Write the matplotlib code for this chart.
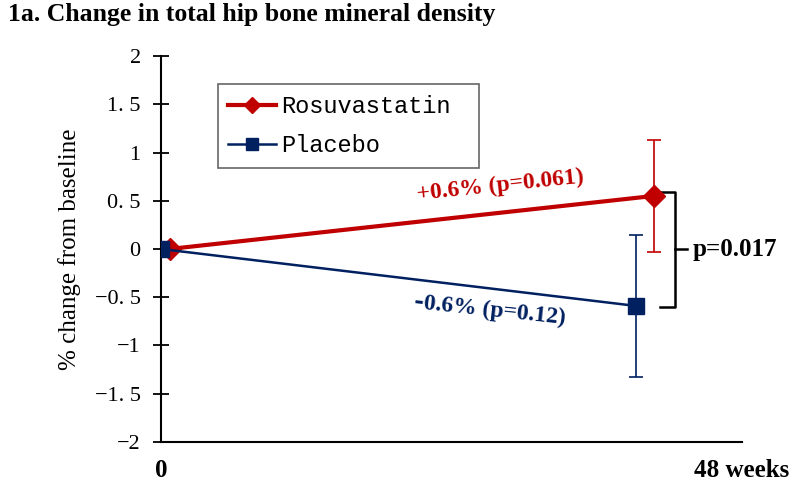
import matplotlib
matplotlib.use('Agg')
import matplotlib.pyplot as plt

# data
visit = [0, 1]                     # baseline, 48 weeks
rosu = [0, 0.55]
rosu_lo = [0, 0.58]                # error bar below
rosu_hi = [0, 0.58]                # error bar above
plac = [0, -0.59]
plac_lo = [0, 0.74]
plac_hi = [0, 0.74]
yticks = [-2, -1.5, -1, -0.5, 0, 0.5, 1, 1.5, 2]
ylabels = ['\u22122', '\u22121. 5', '\u22121', '\u22120. 5', '0', '0. 5', '1', '1. 5', '2']

RED = '#C00000'
NAVY = '#002060'
serif = ['Liberation Serif', 'DejaVu Serif']

fig = plt.figure(figsize=(8, 4.83), dpi=100)
ax = fig.add_axes([0.201, 0.085, 0.7265, 0.799])

# small horizontal offset so the two series don't sit on each other
rx = [v + 0.018 for v in visit]
bx = [v - 0.019 * v for v in visit]

ax.errorbar(rx[1:], rosu[1:], yerr=[rosu_lo[1:], rosu_hi[1:]], fmt='none',
            ecolor=RED, elinewidth=1.2, capsize=5, capthick=1.2, zorder=2)
ax.errorbar(bx[1:], plac[1:], yerr=[plac_lo[1:], plac_hi[1:]], fmt='none',
            ecolor=NAVY, elinewidth=1.2, capsize=5, capthick=1.2, zorder=2)

ax.plot(rx, rosu, color=RED, lw=3, marker='D', ms=11, mfc=RED, mec=RED,
        label='Rosuvastatin', zorder=3)
ax.plot(bx, plac, color=NAVY, lw=1.8, marker='s', ms=12, mfc=NAVY, mec=NAVY,
        label='Placebo', zorder=4)

ax.set_xlim(0, 1.2)
ax.set_ylim(-2, 2)
ax.set_yticks(yticks)
ax.set_yticklabels(ylabels, family=serif, fontsize=16)
ax.set_xticks([0, 1.2])
ax.set_xticklabels(['0', '48 weeks'], family=serif, fontsize=18, fontweight='bold')
ax.tick_params(axis='x', length=0, pad=12)
ax.tick_params(axis='y', direction='inout', length=11, width=1.3, pad=9)

for s in ['top', 'right']:
    ax.spines[s].set_visible(False)
for s in ['left', 'bottom']:
    ax.spines[s].set_linewidth(1.5)

ax.set_ylabel('% change from baseline', family=serif, fontsize=18, labelpad=10)

leg = ax.legend(loc='upper left', bbox_to_anchor=(0.098, 0.5, 0.449, 0.427), mode='expand',
                borderaxespad=0, frameon=True, fancybox=False, edgecolor='#404040',
                borderpad=0.45, handlelength=2.0, handletextpad=0.25, labelspacing=0.7,
                markerscale=0.7,
                prop={'family': ['Liberation Mono', 'DejaVu Sans Mono'], 'size': 17})
leg.get_frame().set_linewidth(1.2)

# slope labels
ax.text(0.70, 0.66, '+0.6% (p=0.061)', color=RED, family=serif, fontsize=17,
        fontweight='bold', rotation=6, rotation_mode='anchor', ha='center', va='center')
ax.text(0.68, -0.64, '\u20110.6% (p=0.12)', color=NAVY, family=serif, fontsize=17,
        fontweight='bold', rotation=-6, rotation_mode='anchor', ha='center', va='center')

# bracket between the two end points
x0, x1, x2 = 1.03, 1.061, 1.086
ytop, ybot = rosu[1] + 0.04, plac[1] - 0.01
ymid = (ytop + ybot) / 2
ax.plot([x0, x1, x1, x0], [ytop, ytop, ybot, ybot], color='black', lw=1.8,
        clip_on=False, solid_joinstyle='round')
ax.plot([x1, x2], [ymid, ymid], color='black', lw=1.8, clip_on=False)
ax.text(x2 + 0.012, ymid, 'p=0.017', family=serif, fontsize=18, fontweight='bold',
        ha='left', va='center')

fig.text(0.01, 0.969, '1a. Change in total hip bone mineral density', family=serif,
         fontsize=18.5, fontweight='bold', ha='left', va='center')

fig.savefig('out.png', dpi=100)
